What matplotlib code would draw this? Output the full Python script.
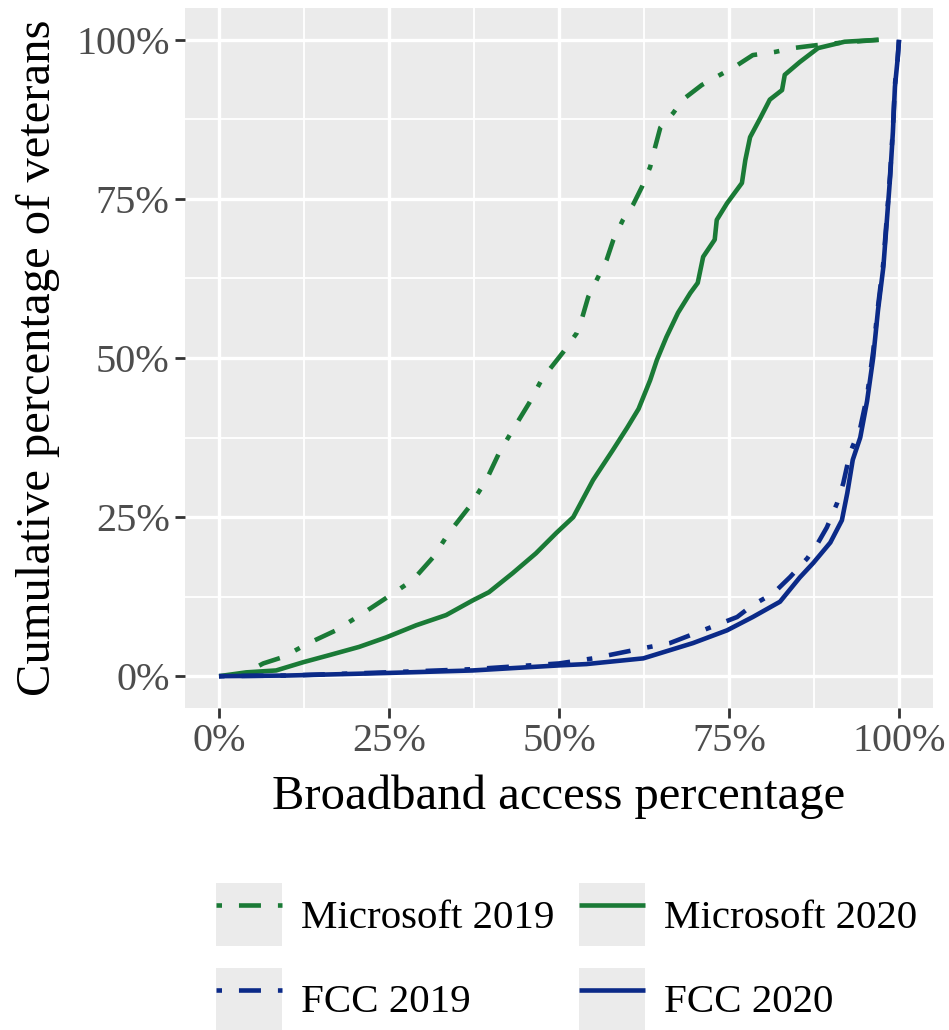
import matplotlib
matplotlib.use("Agg")
import matplotlib.pyplot as plt
from matplotlib.patches import Rectangle
from matplotlib.legend_handler import HandlerTuple
from matplotlib.ticker import MultipleLocator, PercentFormatter

plt.rcParams['font.family'] = ['Liberation Serif', 'DejaVu Serif']

# --- ECDF curves (x = broadband share, y = cumulative share) ---
ms2019_x = [0.03, 0.065, 0.094, 0.132, 0.172, 0.212, 0.246, 0.285, 0.315, 0.338, 0.368, 0.393,
            0.412, 0.432, 0.456, 0.475, 0.506, 0.526, 0.534, 0.543, 0.557, 0.570, 0.580, 0.594,
            0.609, 0.622, 0.634, 0.641, 0.649, 0.668, 0.682, 0.710, 0.737, 0.759, 0.785, 0.818,
            0.844, 0.874, 0.92, 0.97]
ms2019_y = [0.0, 0.020, 0.030, 0.052, 0.072, 0.099, 0.123, 0.151, 0.187, 0.225, 0.266, 0.308,
            0.351, 0.387, 0.429, 0.467, 0.509, 0.539, 0.563, 0.596, 0.626, 0.654, 0.686, 0.717,
            0.741, 0.769, 0.800, 0.830, 0.862, 0.885, 0.906, 0.929, 0.945, 0.958, 0.976, 0.981,
            0.987, 0.991, 0.996, 1.0]

ms2020_x = [0.0, 0.04, 0.084, 0.124, 0.162, 0.206, 0.246, 0.290, 0.334, 0.373, 0.397, 0.432,
            0.466, 0.496, 0.521, 0.540, 0.550, 0.579, 0.600, 0.617, 0.634, 0.644, 0.658, 0.675,
            0.693, 0.704, 0.712, 0.729, 0.732, 0.747, 0.769, 0.774, 0.781, 0.796, 0.810, 0.828,
            0.832, 0.854, 0.881, 0.92, 0.97]
ms2020_y = [0.0, 0.006, 0.009, 0.022, 0.033, 0.046, 0.061, 0.080, 0.096, 0.119, 0.132, 0.162,
            0.193, 0.225, 0.250, 0.288, 0.308, 0.355, 0.39, 0.42, 0.465, 0.497, 0.533, 0.571,
            0.602, 0.618, 0.659, 0.686, 0.717, 0.743, 0.775, 0.811, 0.847, 0.877, 0.906, 0.921,
            0.945, 0.965, 0.987, 0.997, 1.0]

fcc2019_x = [0.0, 0.10, 0.246, 0.373, 0.50, 0.55, 0.624, 0.663, 0.726, 0.762, 0.785, 0.815,
             0.840, 0.865, 0.879, 0.894, 0.909, 0.918, 0.928, 0.943, 0.953, 0.962, 0.969, 0.977,
             0.982, 0.987, 0.991, 0.994, 0.998, 1.0]
fcc2019_y = [0.0, 0.001, 0.006, 0.011, 0.020, 0.028, 0.044, 0.052, 0.078, 0.093, 0.112, 0.130,
             0.156, 0.185, 0.206, 0.234, 0.272, 0.303, 0.351, 0.39, 0.44, 0.51, 0.58, 0.65,
             0.72, 0.79, 0.86, 0.93, 0.97, 1.0]

fcc2020_x = [0.0, 0.10, 0.246, 0.373, 0.501, 0.54, 0.624, 0.697, 0.747, 0.785, 0.825, 0.854,
             0.874, 0.899, 0.916, 0.924, 0.932, 0.943, 0.953, 0.962, 0.969, 0.977, 0.982, 0.987,
             0.991, 0.994, 0.998, 1.0]
fcc2020_y = [0.0, 0.001, 0.005, 0.009, 0.017, 0.019, 0.028, 0.052, 0.072, 0.093, 0.117, 0.155,
             0.178, 0.21, 0.245, 0.288, 0.34, 0.375, 0.432, 0.5, 0.574, 0.643, 0.714, 0.785,
             0.855, 0.926, 0.97, 1.0]

labels = ["Microsoft 2019", "FCC 2019", "Microsoft 2020", "FCC 2020"]

green = "#1A7A36"
blue = "#0B2A88"
dotdash = (1.2, 3.7, 4.8, 3.7)
lw = 3.3

fig = plt.figure(figsize=(9.49, 10.30), dpi=100)
ax = fig.add_axes([185 / 949, 1 - 708 / 1030, (933 - 185) / 949, (708 - 8) / 1030])
ax.set_facecolor("#EBEBEB")
for s in ax.spines.values():
    s.set_visible(False)

l_ms19, = ax.plot(ms2019_x, ms2019_y, color=green, lw=lw, dashes=dotdash, dash_capstyle='butt')
l_ms20, = ax.plot(ms2020_x, ms2020_y, color=green, lw=lw, solid_capstyle='butt')
l_fc19, = ax.plot(fcc2019_x, fcc2019_y, color=blue, lw=lw, dashes=dotdash, dash_capstyle='butt')
l_fc20, = ax.plot(fcc2020_x, fcc2020_y, color=blue, lw=lw, solid_capstyle='butt')

ax.set_xlim(-0.05, 1.05)
ax.set_ylim(-0.05, 1.05)
ax.xaxis.set_major_locator(MultipleLocator(0.25))
ax.yaxis.set_major_locator(MultipleLocator(0.25))
ax.xaxis.set_minor_locator(MultipleLocator(0.125))
ax.yaxis.set_minor_locator(MultipleLocator(0.125))
ax.xaxis.set_major_formatter(PercentFormatter(1.0, decimals=0))
ax.yaxis.set_major_formatter(PercentFormatter(1.0, decimals=0))
ax.grid(which='major', color='white', lw=2.4)
ax.grid(which='minor', color='white', lw=1.3)
ax.set_axisbelow(True)
ax.tick_params(which='major', length=7, width=2, color='#333333',
               labelsize=29, labelcolor='#4D4D4D', pad=4)
ax.tick_params(which='minor', length=0)

ax.set_xlabel("Broadband access percentage", fontsize=35, labelpad=10)
ax.set_ylabel("Cumulative percentage of veterans", fontsize=35, labelpad=12)

def keybox():
    return Rectangle((0, 0), 1, 1, facecolor="#EBEBEB", edgecolor='none')

handles = [(keybox(), l_ms19), (keybox(), l_fc19), (keybox(), l_ms20), (keybox(), l_fc20)]
fig.legend(handles, labels, handler_map={tuple: HandlerTuple(ndivide=1)},
           loc='upper left', bbox_to_anchor=(216 / 949, 1 - 883 / 1030),
           ncol=2, frameon=False, fontsize=29.5, borderpad=0, borderaxespad=0,
           handlelength=1.62, handleheight=2.0, handletextpad=0.45,
           labelspacing=0.52, columnspacing=0.6)

fig.savefig("out.png", dpi=100)
